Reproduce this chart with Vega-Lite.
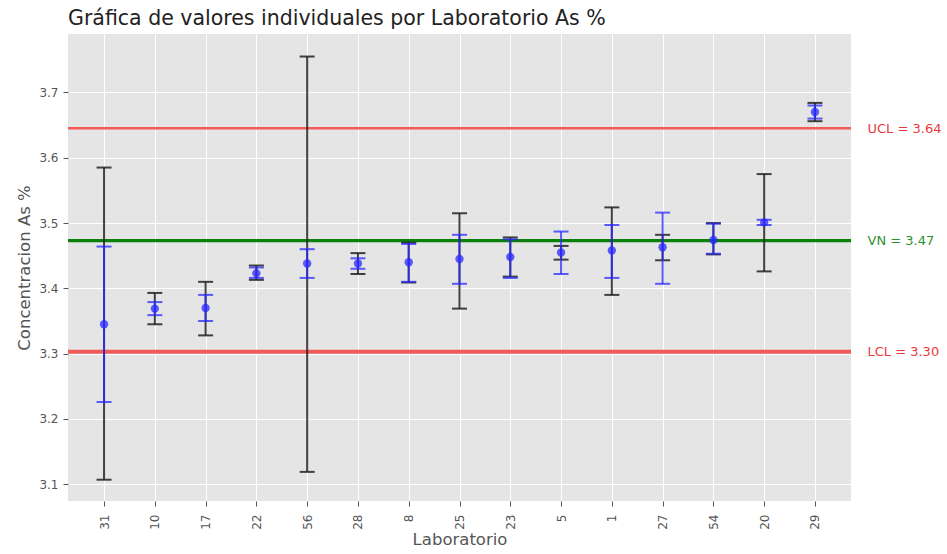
{
  "$schema": "https://vega.github.io/schema/vega-lite/v6.json",
  "width": 783,
  "height": 467,
  "padding": {"left": 16, "top": 8, "right": 0, "bottom": 0},
  "background": "white",
  "title": {
    "text": "Gráfica de valores individuales por Laboratorio As %",
    "anchor": "start",
    "frame": "group",
    "font": "DejaVu Sans",
    "fontSize": 20.5,
    "fontWeight": "normal",
    "color": "#222222",
    "offset": 5
  },
  "config": {
    "view": {"fill": "#E5E5E5", "stroke": null},
    "font": "DejaVu Sans",
    "axis": {
      "labelFont": "DejaVu Sans",
      "titleFont": "DejaVu Sans",
      "labelFontSize": 12,
      "titleFontSize": 16.5,
      "labelColor": "#555555",
      "titleColor": "#555555",
      "titleFontWeight": "normal",
      "domain": false,
      "tickColor": "#555555",
      "tickSize": 5,
      "gridColor": "#FFFFFF",
      "gridWidth": 1
    }
  },
  "layer": [
    {
      "data": {
        "values": [
          {"name": "UCL", "v": 3.645},
          {"name": "VN", "v": 3.473},
          {"name": "LCL", "v": 3.303}
        ]
      },
      "mark": {"type": "rule"},
      "encoding": {
        "y": {
          "field": "v",
          "type": "quantitative",
          "scale": {"domain": [3.0744, 3.7895], "nice": false, "zero": false},
          "axis": {
            "orient": "right",
            "values": [3.303, 3.473, 3.645],
            "labelExpr": "datum.value > 3.6 ? 'UCL = 3.64' : (datum.value > 3.4 ? 'VN = 3.47' : 'LCL = 3.30')",
            "labelColor": {"condition": {"test": "datum.value > 3.4 && datum.value < 3.6", "value": "#2f8f2f"}, "value": "#e83a3a"},
            "ticks": false,
            "grid": false,
            "domain": false,
            "labelPadding": 16,
            "labelFontSize": 13,
            "title": null
          }
        },
        "color": {
          "field": "name",
          "type": "nominal",
          "scale": {"domain": ["UCL", "VN", "LCL"], "range": ["#f25a5a", "#0a800a", "#f25a5a"]},
          "legend": null
        },
        "strokeWidth": {
          "field": "name",
          "type": "nominal",
          "scale": {"domain": ["UCL", "VN", "LCL"], "range": [2.5, 4, 2.5]},
          "legend": null
        }
      }
    },
    {
      "data": {
        "values": [
          {"lab": "31", "value": 3.345, "blo": 3.107, "bhi": 3.585, "ulo": 3.226, "uhi": 3.464},
          {"lab": "10", "value": 3.369, "blo": 3.345, "bhi": 3.393, "ulo": 3.359, "uhi": 3.379},
          {"lab": "17", "value": 3.370, "blo": 3.328, "bhi": 3.410, "ulo": 3.350, "uhi": 3.390},
          {"lab": "22", "value": 3.423, "blo": 3.413, "bhi": 3.435, "ulo": 3.416, "uhi": 3.432},
          {"lab": "56", "value": 3.438, "blo": 3.119, "bhi": 3.755, "ulo": 3.416, "uhi": 3.460},
          {"lab": "28", "value": 3.438, "blo": 3.422, "bhi": 3.454, "ulo": 3.430, "uhi": 3.446},
          {"lab": "8", "value": 3.440, "blo": 3.409, "bhi": 3.470, "ulo": 3.410, "uhi": 3.468},
          {"lab": "25", "value": 3.445, "blo": 3.369, "bhi": 3.515, "ulo": 3.407, "uhi": 3.482},
          {"lab": "23", "value": 3.448, "blo": 3.418, "bhi": 3.478, "ulo": 3.416, "uhi": 3.475},
          {"lab": "5", "value": 3.455, "blo": 3.444, "bhi": 3.465, "ulo": 3.422, "uhi": 3.487},
          {"lab": "1", "value": 3.458, "blo": 3.390, "bhi": 3.524, "ulo": 3.416, "uhi": 3.497},
          {"lab": "27", "value": 3.463, "blo": 3.443, "bhi": 3.482, "ulo": 3.407, "uhi": 3.516},
          {"lab": "54", "value": 3.474, "blo": 3.452, "bhi": 3.500, "ulo": 3.453, "uhi": 3.499},
          {"lab": "20", "value": 3.501, "blo": 3.426, "bhi": 3.575, "ulo": 3.497, "uhi": 3.505},
          {"lab": "29", "value": 3.670, "blo": 3.656, "bhi": 3.684, "ulo": 3.660, "uhi": 3.680}
        ]
      },
      "encoding": {
        "x": {
          "field": "lab",
          "type": "ordinal",
          "sort": ["31", "10", "17", "22", "56", "28", "8", "25", "23", "5", "1", "27", "54", "20", "29"],
          "scale": {"type": "point", "padding": 0.71},
          "axis": {"title": "Laboratorio", "labelAngle": -90, "grid": true, "tickSize": 5, "labelPadding": 8, "titlePadding": 2}
        }
      },
      "layer": [
        {
          "mark": {"type": "rule", "color": "#222222", "strokeWidth": 2, "opacity": 0.85},
          "encoding": {
            "y": {
              "field": "blo",
              "type": "quantitative",
              "scale": {"domain": [3.0744, 3.7895], "nice": false, "zero": false},
              "axis": {"title": "Concentracion As %", "values": [3.1, 3.2, 3.3, 3.4, 3.5, 3.6, 3.7], "format": ".1f", "grid": true, "titlePadding": 6, "labelPadding": 5}
            },
            "y2": {"field": "bhi"}
          }
        },
        {
          "mark": {"type": "tick", "color": "#222222", "thickness": 2, "size": 15, "opacity": 0.85},
          "encoding": {"y": {"field": "blo", "type": "quantitative"}}
        },
        {
          "mark": {"type": "tick", "color": "#222222", "thickness": 2, "size": 15, "opacity": 0.85},
          "encoding": {"y": {"field": "bhi", "type": "quantitative"}}
        },
        {
          "mark": {"type": "rule", "color": "#2a2aff", "strokeWidth": 2, "opacity": 0.75},
          "encoding": {
            "y": {"field": "ulo", "type": "quantitative"},
            "y2": {"field": "uhi"}
          }
        },
        {
          "mark": {"type": "tick", "color": "#2a2aff", "thickness": 2, "size": 15, "opacity": 0.75},
          "encoding": {"y": {"field": "ulo", "type": "quantitative"}}
        },
        {
          "mark": {"type": "tick", "color": "#2a2aff", "thickness": 2, "size": 15, "opacity": 0.75},
          "encoding": {"y": {"field": "uhi", "type": "quantitative"}}
        },
        {
          "mark": {"type": "point", "filled": true, "shape": "circle", "color": "#2a2aff", "size": 70, "opacity": 0.75},
          "encoding": {"y": {"field": "value", "type": "quantitative"}}
        }
      ]
    }
  ],
  "resolve": {"scale": {"y": "independent"}, "axis": {"y": "independent"}}
}
